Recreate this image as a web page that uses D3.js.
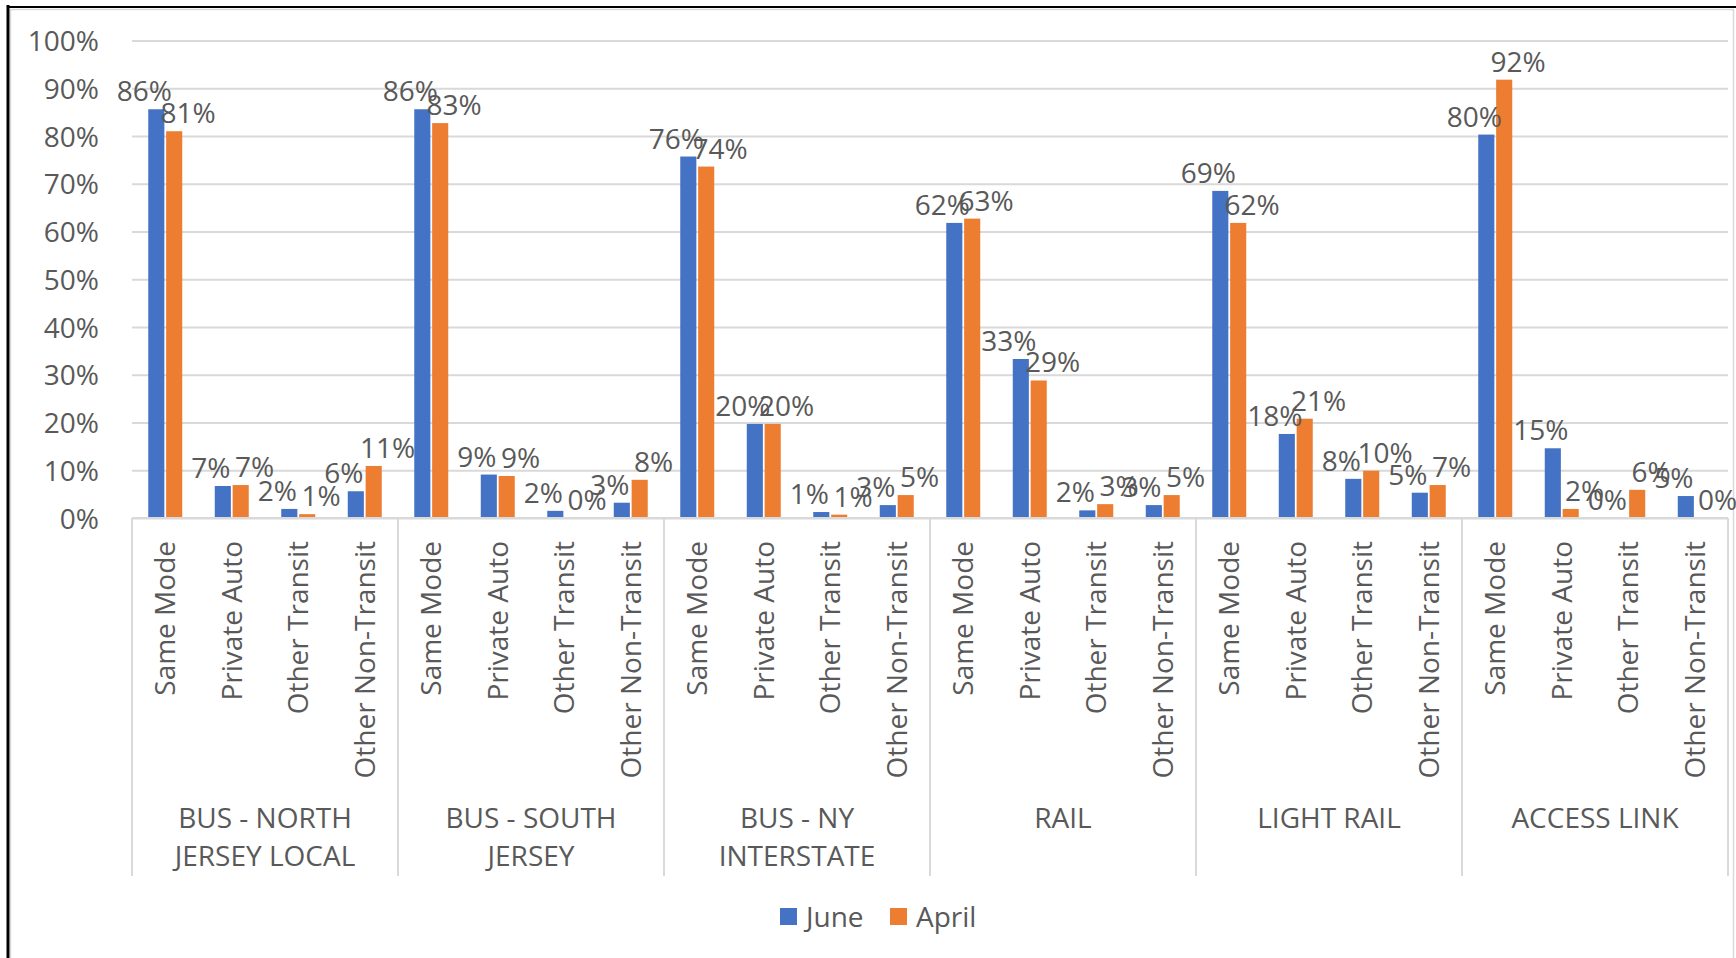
<!DOCTYPE html>
<html>
<head>
<meta charset="utf-8">
<script src="https://cdn.jsdelivr.net/npm/d3@7"></script>
<style>
  body { margin: 0; background: #ffffff; }
  text { font-family: "Open Sans", sans-serif; fill: #595959; }
</style>
</head>
<body>
<div id="chart"></div>
<script>

// chart data
var groups = ["BUS - NORTH JERSEY LOCAL", "BUS - SOUTH JERSEY", "BUS - NY INTERSTATE", "RAIL", "LIGHT RAIL", "ACCESS LINK"];
var modes = ["Same Mode", "Private Auto", "Other Transit", "Other Non-Transit"];
var seriesNames = ["June", "April"];

// one value per group x mode, in the order of groups then modes
var june = [
    0.856, 0.067, 0.019, 0.056,
    0.856, 0.091, 0.015, 0.032,
    0.757, 0.197, 0.0125, 0.027,
    0.618, 0.333, 0.016, 0.027,
    0.685, 0.176, 0.082, 0.053,
    0.803, 0.146, 0, 0.046
];
var april = [
    0.810, 0.069, 0.008, 0.109,
    0.827, 0.088, 0, 0.080,
    0.736, 0.197, 0.007, 0.048,
    0.627, 0.288, 0.029, 0.048,
    0.618, 0.208, 0.099, 0.069,
    0.918, 0.019, 0.059, 0
];
var yTicks = [0, 0.1, 0.2, 0.3, 0.4, 0.5, 0.6, 0.7, 0.8, 0.9, 1];

var colors = {"June": "#4472C4", "April": "#ED7D31"};
// labels of the two series are nudged apart so they read side by side
var labelShift = {"June": -12, "April": 14};

var width = 1736, height = 958;
var plot = {left: 132, right: 1728, top: 40.5, bottom: 518};
var fontSize = 28;

var svg = d3.select("#chart").append("svg")
    .attr("width", width)
    .attr("height", height);

// build the flat list of categories
var cats = [];
groups.forEach(function(g, gi) {
    modes.forEach(function(m, mi) {
        var k = gi * modes.length + mi;
        cats.push({key: k, group: g, mode: m, June: june[k], April: april[k]});
    });
});

// scales
var x = d3.scaleBand()
    .domain(cats.map(function(d) { return d.key; }))
    .range([plot.left, plot.right])
    .paddingInner(0.489)
    .paddingOuter(0.2445);

var x1 = d3.scaleBand()
    .domain(seriesNames)
    .range([0, x.bandwidth()])
    .paddingInner(0.1);

var xGroup = d3.scaleBand()
    .domain(groups)
    .range([plot.left, plot.right]);

var y = d3.scaleLinear()
    .domain([0, 1])
    .range([plot.bottom, plot.top]);

// chart frame
svg.append("rect")
    .attr("x", 10.5).attr("y", 9.5)
    .attr("width", 1723).attr("height", 960)
    .attr("fill", "none")
    .attr("stroke", "#d9d9d9")
    .attr("stroke-width", 1.5);
svg.append("line")
    .attr("x1", 8).attr("x2", 8).attr("y1", 5).attr("y2", height)
    .attr("stroke", "#000").attr("stroke-width", 3);
svg.append("line")
    .attr("x1", 7).attr("x2", width).attr("y1", 7).attr("y2", 7)
    .attr("stroke", "#000").attr("stroke-width", 2);

// gridlines + y labels via axis
var yAxis = d3.axisLeft(y)
    .tickValues(yTicks)
    .tickSize(-(plot.right - plot.left))
    .tickPadding(33)
    .tickFormat(d3.format(".0%"));

var gy = svg.append("g")
    .attr("transform", "translate(" + plot.left + ",0)")
    .call(yAxis);
gy.select(".domain").remove();
gy.selectAll(".tick line")
    .attr("stroke", "#d9d9d9")
    .attr("stroke-width", 2);
gy.selectAll(".tick text")
    .style("font-size", fontSize + "px")
    .attr("fill", "#595959")
    .attr("dy", "0.36em");

// bars
var catG = svg.selectAll(".cat")
    .data(cats)
    .enter().append("g")
    .attr("class", "cat")
    .attr("transform", function(d) { return "translate(" + x(d.key) + ",0)"; });

catG.selectAll("rect")
    .data(function(d) { return seriesNames.map(function(s) { return {series: s, value: d[s]}; }); })
    .enter().append("rect")
    .attr("x", function(d) { return x1(d.series); })
    .attr("y", function(d) { return y(d.value); })
    .attr("width", x1.bandwidth())
    .attr("height", function(d) { return y(0) - y(d.value); })
    .attr("fill", function(d) { return colors[d.series]; });

// data labels
catG.selectAll(".lbl")
    .data(function(d) { return seriesNames.map(function(s) { return {series: s, value: d[s]}; }); })
    .enter().append("text")
    .attr("class", "lbl")
    .attr("x", function(d) { return x1(d.series) + x1.bandwidth() / 2 + labelShift[d.series]; })
    .attr("y", function(d) { return y(d.value) - 8; })
    .attr("text-anchor", "middle")
    .style("font-size", fontSize + "px")
    .text(function(d) { return Math.round(d.value * 100) + "%"; });

// x axis line
svg.append("line")
    .attr("x1", plot.left).attr("x2", plot.right)
    .attr("y1", y(0)).attr("y2", y(0))
    .attr("stroke", "#d9d9d9").attr("stroke-width", 2);

// group separators
var sepX = groups.map(function(g) { return xGroup(g); }).concat([plot.right]);
svg.selectAll(".sep")
    .data(sepX)
    .enter().append("line")
    .attr("class", "sep")
    .attr("x1", function(d) { return d; }).attr("x2", function(d) { return d; })
    .attr("y1", y(0)).attr("y2", 876)
    .attr("stroke", "#d9d9d9").attr("stroke-width", 2);

// rotated mode labels
svg.selectAll(".mode")
    .data(cats)
    .enter().append("text")
    .attr("class", "mode")
    .attr("transform", function(d) {
        return "translate(" + (x(d.key) + x.bandwidth() / 2) + ",541) rotate(-90)";
    })
    .attr("text-anchor", "end")
    .attr("dy", "0.36em")
    .style("font-size", fontSize + "px")
    .text(function(d) { return d.mode; });

// group labels, wrapped to two lines when too wide
var groupText = svg.selectAll(".grp")
    .data(groups)
    .enter().append("text")
    .attr("class", "grp")
    .attr("x", function(d) { return xGroup(d) + xGroup.bandwidth() / 2; })
    .attr("y", 828)
    .attr("text-anchor", "middle")
    .style("font-size", fontSize + "px")
    .text(function(d) { return d; });

groupText.each(function(d) {
    var t = d3.select(this);
    var words = d.split(" ");
    var maxW = xGroup.bandwidth() - 30;
    var lines = [];
    var line = [];
    t.text(null);
    var probe = t.append("tspan");
    words.forEach(function(w) {
        line.push(w);
        probe.text(line.join(" "));
        if (probe.node().getComputedTextLength() > maxW && line.length > 1) {
            line.pop();
            lines.push(line.join(" "));
            line = [w];
        }
    });
    lines.push(line.join(" "));
    probe.remove();
    lines.forEach(function(l, i) {
        t.append("tspan")
            .attr("x", t.attr("x"))
            .attr("dy", i === 0 ? 0 : 38)
            .text(l);
    });
});

// legend
var legend = svg.selectAll(".legend")
    .data(seriesNames)
    .enter().append("g")
    .attr("class", "legend")
    .attr("transform", function(d, i) { return "translate(" + (780 + i * 110) + ",908)"; });

legend.append("rect")
    .attr("width", 17).attr("height", 17)
    .attr("fill", function(d) { return colors[d]; });

legend.append("text")
    .attr("x", 26)
    .attr("y", 9)
    .attr("dy", "0.36em")
    .style("font-size", fontSize + "px")
    .text(function(d) { return d; });

</script>
</body>
</html>
